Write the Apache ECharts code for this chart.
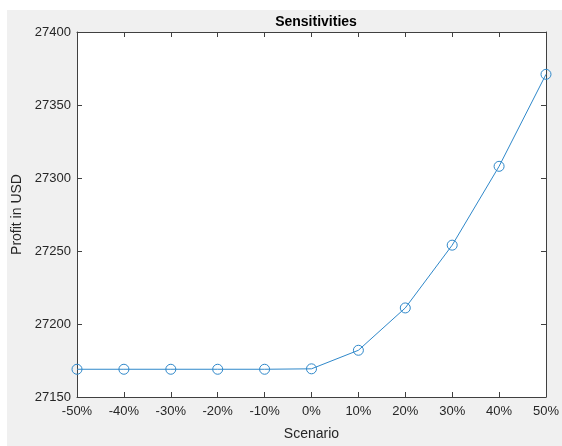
<!DOCTYPE html>
<html>
<head>
<meta charset="utf-8">
<script src="https://cdn.jsdelivr.net/npm/echarts@6/dist/echarts.min.js"></script>
<style>
  html, body { margin: 0; padding: 0; background: #fff; }
  #sensitivities { width: 562px; height: 446px; }
</style>
</head>
<body>
<div id="sensitivities"></div>
<script>
// scenario labels along x
const scenarios = ['-50%', '-40%', '-30%', '-20%', '-10%', '0%', '10%', '20%', '30%', '40%', '50%'];
// profit in USD per scenario
const profit = [27169, 27169, 27169, 27169, 27169, 27169.3, 27182, 27211, 27254, 27308, 27371];
const yTicks = [27150, 27400, 50]; // min, max, step

const chartDom = document.getElementById('sensitivities');
const myChart = echarts.init(chartDom);
const font = 'Liberation Sans, Arial, sans-serif';
const txt = '#262626';
const blue = '#2f88ca';
const axisCol = '#404040';

const option = {
  animation: false,
  backgroundColor: '#fff',
  graphic: [{
    type: 'rect',
    z: -10,
    shape: { x: 7, y: 10, width: 555, height: 436 },
    style: { fill: '#f0f0f0' }
  }],
  title: {
    text: 'Sensitivities',
    left: 311,
    textAlign: 'center',
    top: 10,
    textStyle: { fontFamily: font, fontSize: 14, fontWeight: 'bold', color: '#000' }
  },
  grid: {
    left: 77, right: 16, top: 32, bottom: 44,
    show: true, backgroundColor: '#fff', borderWidth: 0
  },
  xAxis: [{
    type: 'category',
    data: scenarios,
    boundaryGap: false,
    name: 'Scenario',
    nameLocation: 'middle',
    nameGap: 30,
    nameTextStyle: { fontFamily: font, fontSize: 14, color: txt },
    axisLine: { lineStyle: { color: axisCol, width: 1 } },
    axisTick: { inside: true, length: 5, lineStyle: { color: axisCol } },
    axisLabel: { fontFamily: font, fontSize: 13, color: txt, margin: 8 },
    splitLine: { show: false }
  }, {
    type: 'category',
    data: scenarios,
    boundaryGap: false,
    position: 'top',
    axisLine: { lineStyle: { color: axisCol, width: 1 } },
    axisTick: { inside: true, length: 5, lineStyle: { color: axisCol } },
    axisLabel: { show: false }
  }],
  yAxis: [{
    type: 'value',
    min: yTicks[0], max: yTicks[1], interval: yTicks[2],
    name: 'Profit in USD',
    nameLocation: 'middle',
    nameGap: 52,
    nameTextStyle: { fontFamily: font, fontSize: 14, color: txt },
    axisLine: { show: true, lineStyle: { color: axisCol, width: 1 } },
    axisTick: { show: true, inside: true, length: 5, lineStyle: { color: axisCol } },
    axisLabel: { fontFamily: font, fontSize: 13, color: txt, margin: 6, formatter: v => String(v) },
    splitLine: { show: false }
  }, {
    type: 'value',
    min: yTicks[0], max: yTicks[1], interval: yTicks[2],
    position: 'right',
    axisLine: { show: true, lineStyle: { color: axisCol, width: 1 } },
    axisTick: { show: true, inside: true, length: 5, lineStyle: { color: axisCol } },
    axisLabel: { show: false },
    splitLine: { show: false }
  }],
  series: [{
    type: 'line',
    data: profit,
    symbol: 'circle',
    symbolSize: 10,
    showAllSymbol: true,
    lineStyle: { color: blue, width: 1 },
    itemStyle: { color: 'rgba(0,0,0,0)', borderColor: blue, borderWidth: 1 },
    clip: false
  }]
};

option && myChart.setOption(option);
</script>
</body>
</html>
